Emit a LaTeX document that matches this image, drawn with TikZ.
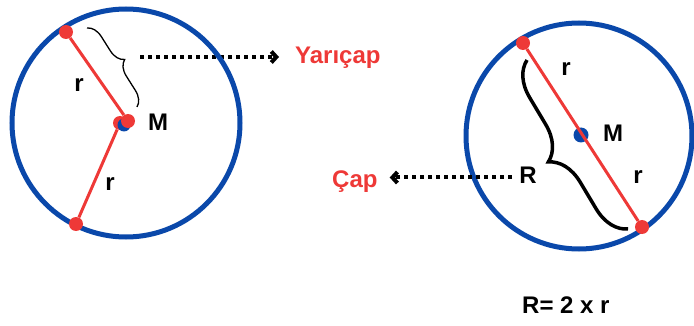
\documentclass[tikz,border=0pt]{standalone}
\usepackage{fontspec}
\setmainfont{Liberation Sans}
\usetikzlibrary{arrows.meta,decorations.pathreplacing}
\definecolor{rimblue}{RGB}{10,72,170}
\definecolor{dotred}{RGB}{238,57,55}

\begin{document}
\begin{tikzpicture}[x=1pt, y=-1pt,
    rim/.style={circle, draw=rimblue, line width=5pt, inner sep=0pt},
    enddot/.style={circle, fill=dotred, inner sep=0pt, minimum size=14pt},
    middot/.style={circle, fill=rimblue, inner sep=0pt, minimum size=13pt},
    radius line/.style={dotred, line width=3pt},
    lbl/.style={font=\fontsize{24}{28}\selectfont\bfseries, inner sep=0pt},
    term/.style={lbl, text=dotred},
    pointer/.style={line width=4pt, dash pattern=on 4pt off 4pt, -{Straight Barb[length=5pt,width=11pt]}}]

    \useasboundingbox (0,0) rectangle (694,326);

    % left circle: radius
    \node[term, anchor=base west] (yaricap) at (295,64) {Yarıçap};
    \coordinate (yfrom) at (140,57);
    \draw[pointer, shorten >=16pt] (yfrom) -- (yfrom -| yaricap.west);

    \node[rim, minimum size=228pt] (left) at (126,123) {};
    \node[enddot] (la) at (66,32) {};
    \node[enddot] (lb) at (76,224) {};
    \node[enddot] (lm2) at (120,123) {};
    \node[middot] (lm) at (124,125) {};
    \node[enddot] (lm1) at (128,121) {};
    \draw[radius line] (la) -- (lm1);
    \draw[radius line] (lb) -- (lm2);

    \coordinate (lbr1) at (87,28);
    \coordinate (lbr2) at (137,107);
    \draw[decorate, decoration={brace, amplitude=15pt}, line width=1.3pt] (lbr1) -- (lbr2);

    \node[lbl, anchor=base] (r1) at (79,92) {r};
    \node[lbl, anchor=base] (r2) at (110,190) {r};
    \node[lbl, anchor=base west] (m1) at (148,131) {M};

    % right circle: diameter
    \node[rim, minimum size=226pt] (right) at (579,136) {};
    \node[middot, minimum size=15pt] (rm) at (581,135) {};
    \node[enddot] (ra) at (523,43) {};
    \node[enddot] (rb) at (642,227) {};
    \draw[radius line] (ra) -- (rb);

    \coordinate (rbr1) at (628,229);
    \coordinate (rbr2) at (527,60);
    \draw[decorate, decoration={brace, amplitude=34pt}, line width=3.5pt] (rbr1) -- (rbr2);

    \node[lbl, anchor=base] (r3) at (566,76) {r};
    \node[lbl, anchor=base west] (m2) at (603,142) {M};
    \node[lbl, anchor=base] (r4) at (638,184) {r};
    \node[lbl, anchor=base] (bigr) at (528,184) {R};

    \node[term, anchor=base west] (cap) at (332,188) {Çap};
    \coordinate (cfrom) at (512,177.5);
    \draw[pointer, shorten >=12pt] (cfrom) -- (cfrom -| cap.east);

    \node[lbl, anchor=base west] (formula) at (522,313) {R= 2 x r};
\end{tikzpicture}
\end{document}
